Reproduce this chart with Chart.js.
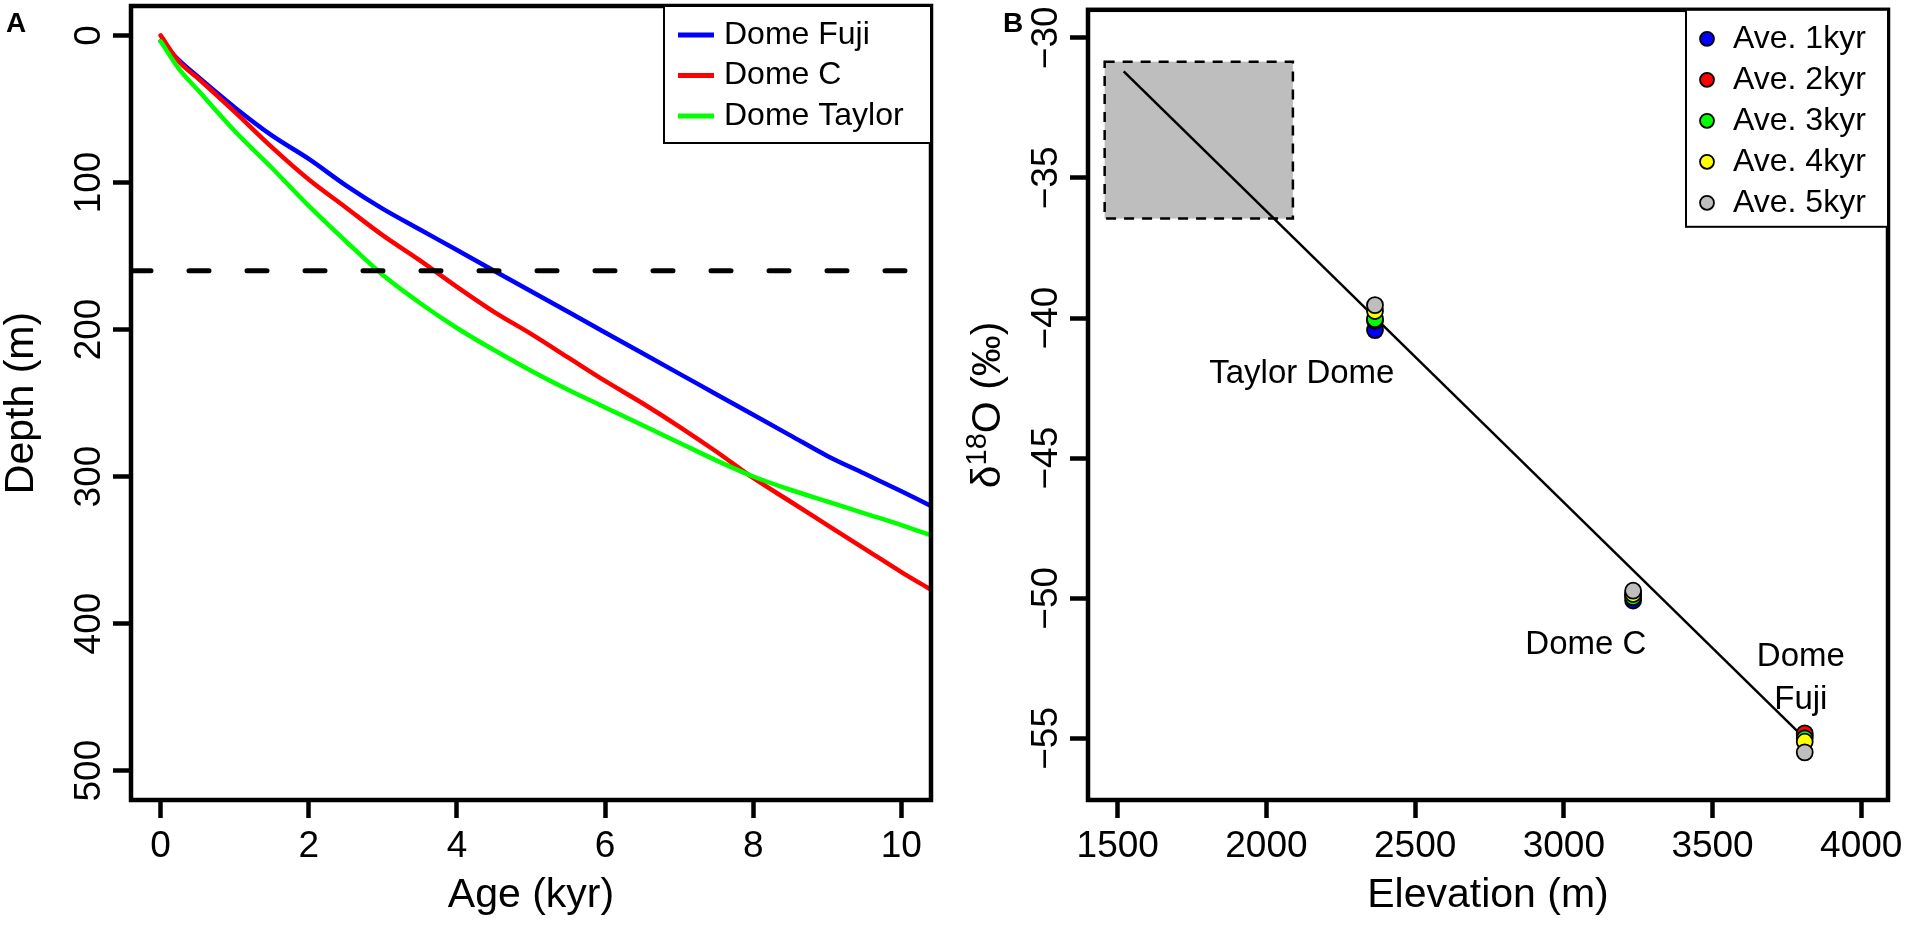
<!DOCTYPE html>
<html>
<head>
    <title>Depth-age and d18O vs elevation</title>
    <style>
        body {
            margin: 0;
            background-color: #fff;
            width: 1911px;
            height: 929px;
            position: relative;
            overflow: hidden;
        }
        canvas {
            position: absolute;
            top: 0;
        }
        #chartA { left: 0; }
        #chartB { left: 960px; }
    </style>
    <script src="https://cdn.jsdelivr.net/npm/chart.js@4.4.0/dist/chart.umd.min.js"></script>
</head>
<body>
    <canvas id="chartA" width="960" height="929"></canvas>
    <canvas id="chartB" width="951" height="929"></canvas>

    <script>
        // ---- panel A data ----
        var ageTicks = [0, 2, 4, 6, 8, 10];
        var depthTicks = [0, 100, 200, 300, 400, 500];
        var ageKyr = [0, 0.25, 0.5, 1, 1.5, 2, 2.5, 3, 3.5, 4, 4.5, 5, 5.5, 6, 6.5, 7, 7.5, 8, 8.5, 9, 9.5, 10, 10.4];
        var depthFuji = [4, 17, 28, 49, 68, 84, 102, 118, 132, 146, 160, 174, 188, 202, 216, 230, 244, 258, 272, 286, 298, 310, 320];
        var depthDomeC = [0, 18, 29, 52, 76, 98, 117, 136, 153, 171, 188, 203, 219, 235, 250, 266, 283, 301, 317, 333, 349, 365, 377];
        var depthTaylor = [4, 23, 37, 65, 90, 116, 140, 163, 182, 199, 214, 228, 241, 253, 265, 277, 289, 300, 309, 317, 325, 333, 340];
        var cutDepth = 160;

        // ---- panel B data ----
        var elevTicks = [1500, 2000, 2500, 3000, 3500, 4000];
        var d18OTicks = [-55, -50, -45, -40, -35, -30];
        var siteElev = [2365, 3233, 3810];   // Taylor Dome, Dome C, Dome Fuji
        var ave1kyr = [-40.43, -50.08, -54.90];
        var ave2kyr = [-40.10, -49.88, -54.82];
        var ave3kyr = [-40.04, -49.96, -55.00];
        var ave4kyr = [-39.75, -49.85, -55.12];
        var ave5kyr = [-39.54, -49.73, -55.50];
        var fitElev = [1520, 3810];
        var fitD18O = [-31.2, -55.0];
        var boxElev = [1456, 2089];
        var boxD18O = [-36.45, -30.85];

        var FONT = '"Liberation Sans", Arial, Helvetica, sans-serif';

        function pts(xs, ys) {
            return xs.map(function (x, i) { return { x: x, y: ys[i] }; });
        }

        function setTicks(values) {
            return function (scale) {
                scale.ticks = values.map(function (v) { return { value: v }; });
            };
        }

        var tickGrid = {
            display: true,
            drawOnChartArea: false,
            drawTicks: true,
            tickLength: 18,
            tickWidth: 4.5,
            tickColor: '#000',
            color: '#000'
        };

        var xTickOpts = {
            color: '#000',
            font: { family: FONT, size: 37 },
            padding: 7,
            maxRotation: 0,
            autoSkip: false,
            callback: function (v) { return String(v); }
        };

        function drawFrame(ctx, a) {
            ctx.save();
            ctx.lineWidth = 4.5;
            ctx.strokeStyle = '#000';
            ctx.strokeRect(a.left, a.top, a.right - a.left, a.bottom - a.top);
            ctx.restore();
        }

        function drawYTickLabels(chart, fmt) {
            var s = chart.scales.y, ctx = chart.ctx;
            ctx.save();
            ctx.font = '37px ' + FONT;
            ctx.fillStyle = '#000';
            ctx.textAlign = 'center';
            ctx.textBaseline = 'alphabetic';
            s.ticks.forEach(function (t) {
                var py = s.getPixelForValue(t.value);
                ctx.save();
                ctx.translate(s.right - 31, py);
                ctx.rotate(-Math.PI / 2);
                ctx.fillText(fmt(t.value), 0, 0);
                ctx.restore();
            });
            ctx.restore();
        }

        function text(ctx, str, x, y, font, align, base, rot) {
            ctx.save();
            ctx.font = font;
            ctx.fillStyle = '#000';
            ctx.textAlign = align || 'center';
            ctx.textBaseline = base || 'alphabetic';
            ctx.translate(x, y);
            if (rot) ctx.rotate(rot);
            ctx.fillText(str, 0, 0);
            ctx.restore();
        }

        // ---- Panel A ----
        var panelA = {
            id: 'panelA',
            afterDraw: function (chart) {
                var ctx = chart.ctx, a = chart.chartArea;
                drawFrame(ctx, a);
                drawYTickLabels(chart, function (v) { return String(v); });
                text(ctx, 'Age (kyr)', (a.left + a.right) / 2, 907, '41px ' + FONT);
                text(ctx, 'Depth (m)', 33, (a.top + a.bottom) / 2, '41px ' + FONT, 'center', 'alphabetic', -Math.PI / 2);
                text(ctx, 'A', 6, 32, 'bold 28px ' + FONT, 'left');

                // legend
                var lw = 267, lh = 137, lx = a.right - lw, ly = a.top;
                ctx.save();
                ctx.fillStyle = '#fff';
                ctx.fillRect(lx, ly, lw, lh);
                ctx.lineWidth = 2;
                ctx.strokeStyle = '#000';
                ctx.strokeRect(lx, ly, lw, lh);
                ctx.restore();
                chart.data.datasets.slice(0, 3).forEach(function (ds, i) {
                    var yy = ly + 29 + i * 40.5;
                    ctx.save();
                    ctx.strokeStyle = ds.borderColor;
                    ctx.lineWidth = 5;
                    ctx.beginPath();
                    ctx.moveTo(lx + 14, yy);
                    ctx.lineTo(lx + 50, yy);
                    ctx.stroke();
                    ctx.restore();
                    text(ctx, ds.label, lx + 60, yy, '32px ' + FONT, 'left', 'middle');
                });
            }
        };

        new Chart(document.getElementById('chartA'), {
            type: 'scatter',
            data: {
                datasets: [
                    { label: 'Dome Fuji', data: pts(ageKyr, depthFuji), borderColor: '#0000ff', order: 3 },
                    { label: 'Dome C', data: pts(ageKyr, depthDomeC), borderColor: '#ff0000', order: 2 },
                    { label: 'Dome Taylor', data: pts(ageKyr, depthTaylor), borderColor: '#00ff00', order: 1 },
                    {
                        label: 'cut', data: pts([-0.4, 10.4], [cutDepth, cutDepth]), borderColor: '#000',
                        borderDash: [20, 38], borderWidth: 5, order: 0
                    }
                ].map(function (d) {
                    return Object.assign({
                        showLine: true, pointRadius: 0, borderWidth: 4.5, cubicInterpolationMode: 'monotone',
                        borderCapStyle: 'round', borderJoinStyle: 'round', backgroundColor: d.borderColor
                    }, d);
                })
            },
            options: {
                responsive: false,
                animation: false,
                devicePixelRatio: 1,
                layout: { padding: { top: 6, right: 29, left: 0, bottom: 0 } },
                plugins: { legend: { display: false }, tooltip: { enabled: false } },
                scales: {
                    x: {
                        type: 'linear', min: -0.4, max: 10.4,
                        afterBuildTicks: setTicks(ageTicks),
                        afterFit: function (s) { s.height = 129; },
                        grid: tickGrid,
                        border: { display: false },
                        ticks: xTickOpts
                    },
                    y: {
                        type: 'linear', reverse: true, min: -20, max: 520,
                        afterBuildTicks: setTicks(depthTicks),
                        afterFit: function (s) { s.width = 131; },
                        grid: tickGrid,
                        border: { display: false },
                        ticks: { display: false }
                    }
                }
            },
            plugins: [panelA]
        });

        // ---- Panel B ----
        var siteText = [
            { t: 'Taylor Dome', x: 2119, y: -42.0 },
            { t: 'Dome C', x: 3074, y: -51.66 },
            { t: 'Dome', x: 3797, y: -52.09 },
            { t: 'Fuji', x: 3797, y: -53.62 }
        ];

        var panelB = {
            id: 'panelB',
            beforeDatasetsDraw: function (chart) {
                var ctx = chart.ctx, sx = chart.scales.x, sy = chart.scales.y;
                var x0 = sx.getPixelForValue(boxElev[0]), x1 = sx.getPixelForValue(boxElev[1]);
                var y0 = sy.getPixelForValue(boxD18O[1]), y1 = sy.getPixelForValue(boxD18O[0]);
                ctx.save();
                ctx.fillStyle = '#bebebe';
                ctx.fillRect(x0, y0, x1 - x0, y1 - y0);
                ctx.setLineDash([10, 8]);
                ctx.lineWidth = 2.5;
                ctx.strokeStyle = '#000';
                ctx.strokeRect(x0, y0, x1 - x0, y1 - y0);
                ctx.restore();
            },
            afterDraw: function (chart) {
                var ctx = chart.ctx, a = chart.chartArea, sx = chart.scales.x, sy = chart.scales.y;
                drawFrame(ctx, a);
                drawYTickLabels(chart, function (v) { return v < 0 ? '\u2212' + Math.abs(v) : String(v); });
                text(ctx, 'Elevation (m)', (a.left + a.right) / 2, 907, '41px ' + FONT);
                text(ctx, 'B', 43, 32, 'bold 28px ' + FONT, 'left');

                // y title: delta 18 O (permil)
                ctx.save();
                ctx.translate(a.left - 88, (a.top + a.bottom) / 2);
                ctx.rotate(-Math.PI / 2);
                ctx.fillStyle = '#000';
                ctx.textBaseline = 'alphabetic';
                ctx.textAlign = 'left';
                var big = '41px ' + FONT, small = '29px ' + FONT;
                ctx.font = big;
                var w1 = ctx.measureText('\u03b4').width, w3 = ctx.measureText('O (\u2030)').width;
                ctx.font = small;
                var w2 = ctx.measureText('18').width;
                var x = -(w1 + w2 + w3) / 2;
                ctx.font = big; ctx.fillText('\u03b4', x, 0); x += w1;
                ctx.font = small; ctx.fillText('18', x, -14); x += w2;
                ctx.font = big; ctx.fillText('O (\u2030)', x, 0);
                ctx.restore();

                siteText.forEach(function (s) {
                    text(ctx, s.t, sx.getPixelForValue(s.x), sy.getPixelForValue(s.y), '33px ' + FONT, 'center', 'middle');
                });

                // legend
                var lw = 202, lh = 217, lx = a.right - lw, ly = a.top;
                ctx.save();
                ctx.fillStyle = '#fff';
                ctx.fillRect(lx, ly, lw, lh);
                ctx.lineWidth = 2;
                ctx.strokeStyle = '#000';
                ctx.strokeRect(lx, ly, lw, lh);
                ctx.restore();
                chart.data.datasets.slice(1).forEach(function (ds, i) {
                    var yy = ly + 29 + i * 41;
                    ctx.save();
                    ctx.fillStyle = ds.backgroundColor;
                    ctx.strokeStyle = '#000';
                    ctx.lineWidth = 1.8;
                    ctx.beginPath();
                    ctx.arc(lx + 21, yy, 7, 0, Math.PI * 2);
                    ctx.fill();
                    ctx.stroke();
                    ctx.restore();
                    text(ctx, ds.label, lx + 47, yy, '32px ' + FONT, 'left', 'middle');
                });
            }
        };

        function aveSet(label, values, color, order) {
            return {
                label: label, data: pts(siteElev, values), backgroundColor: color, borderColor: '#000',
                pointRadius: 8, pointBorderWidth: 1.8, showLine: false, order: order
            };
        }

        new Chart(document.getElementById('chartB'), {
            type: 'scatter',
            data: {
                datasets: [
                    {
                        label: 'fit', data: pts(fitElev, fitD18O), showLine: true, borderColor: '#000',
                        borderWidth: 2.5, pointRadius: 0, order: 10
                    },
                    aveSet('Ave. 1kyr', ave1kyr, '#0000ff', 5),
                    aveSet('Ave. 2kyr', ave2kyr, '#ff0000', 4),
                    aveSet('Ave. 3kyr', ave3kyr, '#00ff00', 3),
                    aveSet('Ave. 4kyr', ave4kyr, '#ffff00', 2),
                    aveSet('Ave. 5kyr', ave5kyr, '#bebebe', 1)
                ]
            },
            options: {
                responsive: false,
                animation: false,
                devicePixelRatio: 1,
                layout: { padding: { top: 6, right: 23, left: 0, bottom: 0 } },
                plugins: { legend: { display: false }, tooltip: { enabled: false } },
                scales: {
                    x: {
                        type: 'linear', min: 1400, max: 4090,
                        afterBuildTicks: setTicks(elevTicks),
                        afterFit: function (s) { s.height = 129; },
                        grid: tickGrid,
                        border: { display: false },
                        ticks: xTickOpts
                    },
                    y: {
                        type: 'linear', min: -57.2, max: -29.0,
                        afterBuildTicks: setTicks(d18OTicks),
                        afterFit: function (s) { s.width = 128; },
                        grid: tickGrid,
                        border: { display: false },
                        ticks: { display: false }
                    }
                }
            },
            plugins: [panelB]
        });
    </script>
</body>
</html>
